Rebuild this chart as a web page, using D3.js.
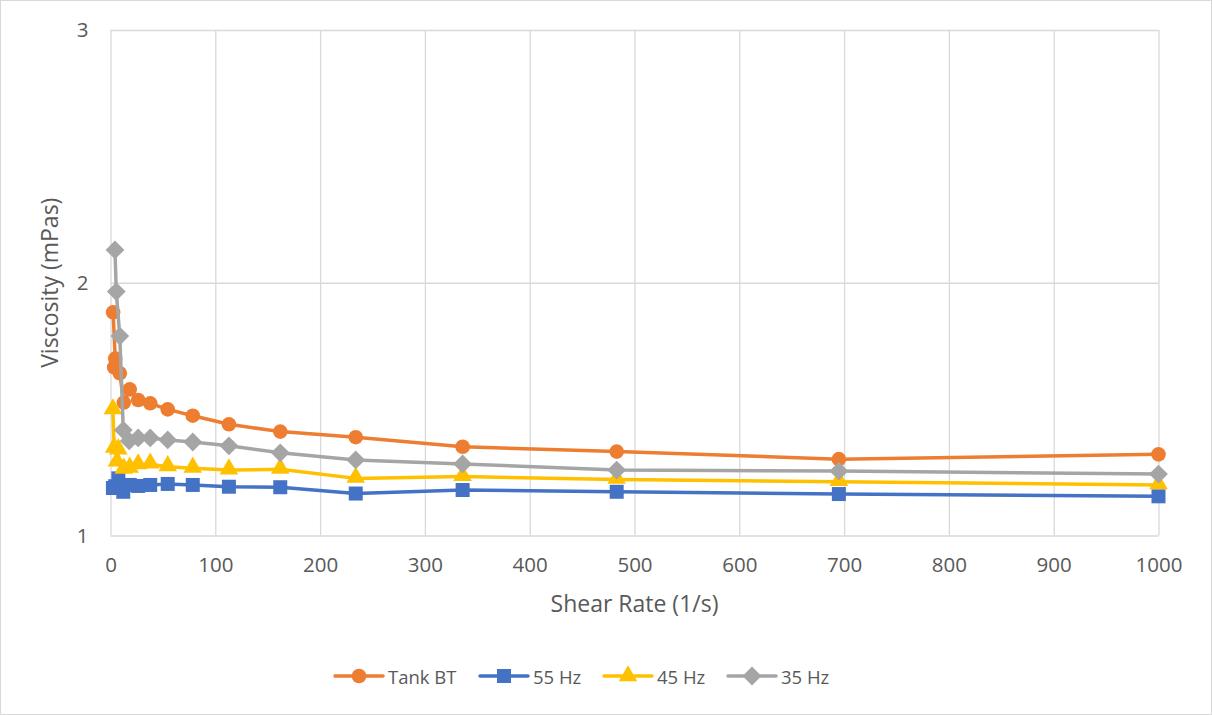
<!DOCTYPE html>
<html>
<head>
<meta charset="utf-8">
<script src="https://cdn.jsdelivr.net/npm/d3@7"></script>
<style>
  html, body { margin: 0; padding: 0; background: #fff; }
  svg { display: block; font-family: "Open Sans", "Liberation Sans", sans-serif; }
</style>
</head>
<body>
<svg id="chart" width="1212" height="715"></svg>
<script>
// ---- data ----
const tankX  = [2.5, 4.5, 3.5, 8.86, 12.7, 18.3, 26.4, 37.9, 54.6, 78.5, 113, 162, 234, 336, 483, 695, 1000];
const tankY  = [1.883, 1.70, 1.665, 1.642, 1.526, 1.578, 1.536, 1.523, 1.499, 1.474, 1.44, 1.411, 1.389, 1.351, 1.332, 1.302, 1.321];

const hz55X  = [2.3, 4.5, 7.5, 12.2, 18.3, 26.4, 37.9, 54.6, 78.5, 113, 162, 234, 336, 483, 695, 1000];
const hz55Y  = [1.188, 1.195, 1.226, 1.173, 1.200, 1.196, 1.200, 1.204, 1.200, 1.193, 1.191, 1.166, 1.180, 1.173, 1.164, 1.155];

const hz45X  = [2.3, 3.5, 7.5, 6.16, 12.7, 18.3, 26.4, 37.9, 54.6, 78.5, 113, 162, 234, 336, 483, 695, 1000];
const hz45Y  = [1.497, 1.345, 1.338, 1.290, 1.262, 1.266, 1.279, 1.282, 1.272, 1.266, 1.259, 1.262, 1.226, 1.233, 1.222, 1.213, 1.200];

const hz35X  = [4.28, 5.5, 8.86, 12.2, 17.8, 26.4, 37.9, 54.6, 78.5, 113, 162, 234, 336, 483, 695, 1000];
const hz35Y  = [2.13, 1.965, 1.789, 1.417, 1.374, 1.386, 1.386, 1.378, 1.370, 1.355, 1.327, 1.299, 1.283, 1.259, 1.255, 1.243];

const seriesNames  = ["Tank BT", "55 Hz", "45 Hz", "35 Hz"];
const seriesColors = ["#ED7D31", "#4472C4", "#FFC000", "#A5A5A5"];
const seriesShapes = ["circle", "square", "triangle", "diamond"];
const xTicks = [0, 100, 200, 300, 400, 500, 600, 700, 800, 900, 1000];
const yTicks = [1, 2, 3];
const xTitle = "Shear Rate (1/s)";
const yTitle = "Viscosity (mPas)";

const series = [
  {x: tankX, y: tankY},
  {x: hz55X, y: hz55Y},
  {x: hz45X, y: hz45Y},
  {x: hz35X, y: hz35Y}
].map((s, i) => ({
  name: seriesNames[i], color: seriesColors[i], shape: seriesShapes[i],
  pts: s.x.map((xv, j) => [xv, s.y[j]])
}));

// ---- layout ----
const W = 1212, H = 715;
const plot = {left: 110.5, right: 1158.5, top: 30, bottom: 535.5};
const svg = d3.select("#chart");
const textColor = "#595959";
const gridColor = "#D9D9D9";

// chart border
svg.append("rect").attr("x", 0.5).attr("y", 0.5).attr("width", W - 1).attr("height", H - 1)
  .attr("fill", "#fff").attr("stroke", "#D9D9D9").attr("stroke-width", 1);

const x = d3.scaleLinear().domain([0, 1000]).range([plot.left, plot.right]);
const y = d3.scaleLinear().domain([1, 3]).range([plot.bottom, plot.top]);

// gridlines
const gx = svg.append("g").attr("transform", `translate(0,${plot.bottom})`)
  .call(d3.axisBottom(x).tickValues(xTicks).tickSize(-(plot.bottom - plot.top)).tickFormat(""));
gx.select(".domain").remove();
gx.selectAll("line").attr("stroke", gridColor).attr("stroke-width", 1.3);

const gy = svg.append("g").attr("transform", `translate(${plot.left},0)`)
  .call(d3.axisLeft(y).tickValues(yTicks).tickSize(-(plot.right - plot.left)).tickFormat(""));
gy.select(".domain").remove();
gy.selectAll("line").attr("stroke", gridColor).attr("stroke-width", 1.3);

// tick labels
const ax = svg.append("g").attr("transform", `translate(0,${plot.bottom})`)
  .call(d3.axisBottom(x).tickValues(xTicks).tickSize(0).tickPadding(22).tickFormat(d3.format("d")));
ax.select(".domain").remove();
ax.selectAll("text").attr("fill", textColor).style("font-size", "20.5px")
  .style("font-family", "'Open Sans', sans-serif");

const ay = svg.append("g").attr("transform", `translate(${plot.left},0)`)
  .call(d3.axisLeft(y).tickValues(yTicks).tickSize(0).tickPadding(22).tickFormat(d3.format("d")));
ay.select(".domain").remove();
ay.selectAll("text").attr("fill", textColor).style("font-size", "20.5px")
  .style("font-family", "'Open Sans', sans-serif");

// axis titles
svg.append("text").attr("x", (plot.left + plot.right) / 2).attr("y", 606)
  .attr("text-anchor", "middle").attr("dominant-baseline", "middle")
  .attr("fill", textColor).style("font-size", "23px").text(xTitle);
svg.append("text").attr("transform", `translate(52,${(plot.top + plot.bottom) / 2}) rotate(-90)`)
  .attr("text-anchor", "middle").attr("dominant-baseline", "middle")
  .attr("fill", textColor).style("font-size", "23px").text(yTitle);

// markers
const symbolFor = {
  circle: d3.symbol().type(d3.symbolCircle).size(Math.PI * 7.3 * 7.3),
  square: d3.symbol().type(d3.symbolSquare).size(14 * 14),
  triangle: d3.symbol().type(d3.symbolTriangle).size(150),
  diamond: d3.symbol().type(d3.symbolDiamond2).size(15 * 15)
};

const line = d3.line().x(d => x(d[0])).y(d => y(d[1]));
series.forEach(s => {
  const g = svg.append("g");
  g.append("path").datum(s.pts).attr("d", line).attr("fill", "none")
    .attr("stroke", s.color).attr("stroke-width", 3.5).attr("stroke-linejoin", "round");
  g.selectAll("path.m").data(s.pts).join("path").attr("class", "m")
    .attr("transform", d => `translate(${x(d[0])},${y(d[1])})` + (s.shape === "triangle" ? " translate(0,-1)" : ""))
    .attr("d", symbolFor[s.shape]()).attr("fill", s.color);
});

// legend
const legendX = [335, 480, 604, 728];
const legendY = 676;
series.forEach((s, i) => {
  const g = svg.append("g").attr("transform", `translate(${legendX[i]},${legendY})`);
  g.append("line").attr("x1", 0).attr("x2", 48).attr("y1", 0).attr("y2", 0)
    .attr("stroke", s.color).attr("stroke-width", 3.5).attr("stroke-linecap", "round");
  g.append("path").attr("transform", "translate(24,0)").attr("d", symbolFor[s.shape]()).attr("fill", s.color);
  g.append("text").attr("x", 53).attr("y", 0).attr("dominant-baseline", "central")
    .attr("fill", textColor).style("font-size", "18.5px").text(s.name);
});
</script>
</body>
</html>
